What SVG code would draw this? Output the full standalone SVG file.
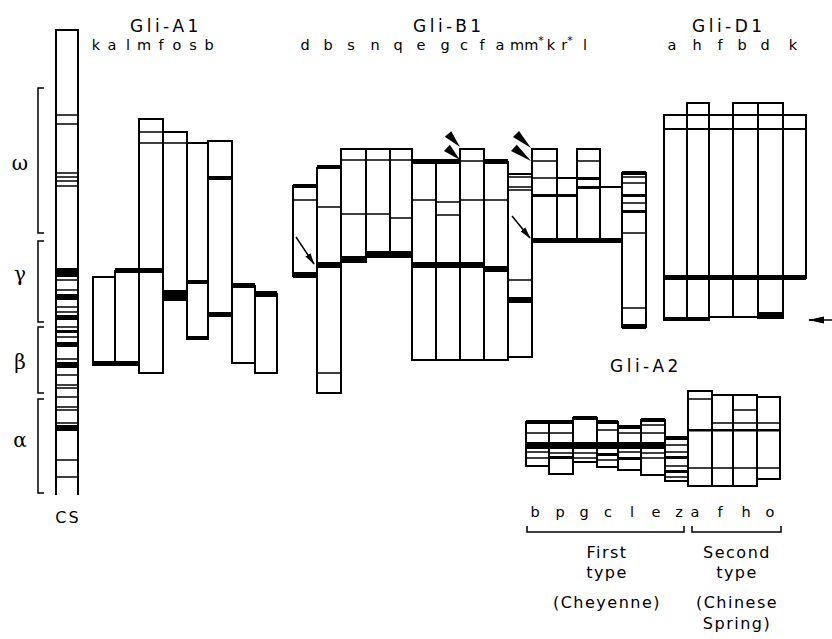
<svg xmlns="http://www.w3.org/2000/svg" width="832" height="639" viewBox="0 0 832 639">
<defs>
<style>
.ln{fill:none;stroke:#000;stroke-width:2}
.tn{fill:none;stroke:#000;stroke-width:1.5}
.bk{fill:#000}
.t{font-family:"DejaVu Sans","Liberation Sans",sans-serif;font-size:16px;fill:#000}
.ttl{font-family:"DejaVu Sans","Liberation Sans",sans-serif;font-size:17px;fill:#000;letter-spacing:3.5px}
.lt{font-family:"DejaVu Sans","Liberation Sans",sans-serif;font-size:14.5px;fill:#000;text-anchor:middle}
.gk{font-family:"DejaVu Serif","Liberation Serif",serif;font-size:20px;fill:#000;text-anchor:middle}
.cap{font-family:"DejaVu Sans","Liberation Sans",sans-serif;font-size:16px;fill:#000;text-anchor:middle;letter-spacing:1.5px}
.ar{stroke:#000;stroke-width:1.5;fill:none}
</style>
<marker id="head" viewBox="0 0 12 8" refX="11" refY="4" markerWidth="12" markerHeight="8" markerUnits="userSpaceOnUse" orient="auto">
<path d="M0,1 L12,4 L0,7 z" fill="#000"/>
</marker>
<marker id="bighead" viewBox="0 0 16 10" refX="15" refY="5" markerWidth="16" markerHeight="10" markerUnits="userSpaceOnUse" orient="auto">
<path d="M0,1.5 L16,5 L0,8.5 z" fill="#000"/>
</marker>
</defs>
<rect width="832" height="639" fill="#fff"/>

<!-- reference cultivar column -->
<g id="cs">
<path class="ln" d="M56 495 V30 H78 V495"/>
<path class="tn" d="M56 115H78M56 124H78M56 173H78M56 177H78M56 181H78M56 186H78M56 280H78M56 290H78M56 307H78M56 312H78M56 327H78M56 337H78M56 359H78M56 375H78M56 385H78M56 388H78M56 397H78M56 407H78M56 410H78M56 423H78M56 460H78M56 477H78"/>
<rect class="bk" x="56" y="268" width="22" height="9"/>
<rect class="bk" x="56" y="294" width="22" height="6"/>
<rect class="bk" x="56" y="315" width="22" height="5"/>
<rect class="bk" x="56" y="330" width="22" height="3"/>
<rect class="bk" x="56" y="342" width="22" height="5"/>
<rect class="bk" x="56" y="362" width="22" height="6"/>
<rect class="bk" x="56" y="425" width="22" height="6"/>
<text class="t" x="68" y="523" text-anchor="middle" letter-spacing="2">CS</text>
</g>

<!-- fraction brackets -->
<g id="fractions">
<path class="tn" d="M44 88H38V233H44M44 241H38V322H44M44 327H38V393H44M44 399H38V493H44"/>
<text class="gk" x="20" y="170">ω</text>
<text class="gk" x="20" y="281">γ</text>
<text class="gk" x="20" y="369">β</text>
<text class="gk" x="20" y="447">α</text>
</g>

<!-- Gli-A1 -->
<g id="gli-a1">
<text class="ttl" x="130" y="32">Gli-A1</text>
<g id="a1-labels">
<text class="lt" x="96" y="50">k</text><text class="lt" x="112" y="50">a</text><text class="lt" x="128" y="50">l</text><text class="lt" x="144" y="50">m</text><text class="lt" x="161" y="50">f</text><text class="lt" x="177" y="50">o</text><text class="lt" x="193" y="50">s</text><text class="lt" x="209" y="50">b</text>
</g>
<g id="a1-k"><rect class="ln" x="93" y="277" width="22" height="88"/></g>
<g id="a1-a"><rect class="ln" x="115" y="271" width="24" height="94"/></g>
<rect class="bk" x="93" y="361" width="46" height="5"/>
<rect class="bk" x="115" y="268" width="48" height="5"/>
<g id="a1-l"><rect class="ln" x="139" y="119" width="24" height="254"/><path class="tn" d="M139 132H187M139 143H208"/></g>
<g id="a1-m"><rect class="ln" x="163" y="132" width="24" height="168"/><rect class="bk" x="163" y="290" width="24" height="10"/></g>
<g id="a1-f"><rect class="ln" x="187" y="143" width="21" height="196"/><rect class="bk" x="187" y="280" width="21" height="4"/><rect class="bk" x="187" y="336" width="21" height="4"/></g>
<g id="a1-o"><rect class="ln" x="208" y="141" width="24" height="175"/><rect class="bk" x="208" y="176" width="24" height="4"/><rect class="bk" x="208" y="312" width="24" height="5"/></g>
<g id="a1-s"><rect class="ln" x="232" y="286" width="23" height="77"/><rect class="bk" x="232" y="283" width="23" height="5"/></g>
<g id="a1-b"><rect class="ln" x="255" y="294" width="22" height="79"/><rect class="bk" x="255" y="291" width="22" height="6"/></g>
</g>

<!-- Gli-B1 -->
<g id="gli-b1">
<text class="ttl" x="413" y="32">Gli-B1</text>
<g id="b1-labels">
<text class="lt" x="305" y="50">d</text><text class="lt" x="328" y="50">b</text><text class="lt" x="351" y="50">s</text><text class="lt" x="375" y="50">n</text><text class="lt" x="398" y="50">q</text><text class="lt" x="421" y="50">e</text><text class="lt" x="445" y="50">g</text><text class="lt" x="464" y="50">c</text><text class="lt" x="482" y="50">f</text><text class="lt" x="500" y="50">a</text><text class="lt" x="517" y="50">m</text><text class="lt" x="534" y="50">m<tspan dy="-6" font-size="11">*</tspan></text><text class="lt" x="551" y="50">k</text><text class="lt" x="567" y="50">r<tspan dy="-6" font-size="11">*</tspan></text><text class="lt" x="585" y="50">l</text>
</g>
<g id="b1-d"><rect class="ln" x="293" y="186" width="24" height="90"/><rect class="bk" x="293" y="184" width="24" height="4"/><path class="tn" d="M293 200H317"/><rect class="bk" x="293" y="272" width="24" height="6"/></g>
<g id="b1-b"><rect class="ln" x="317" y="168" width="24" height="225"/><rect class="bk" x="317" y="165" width="24" height="4"/><path class="tn" d="M317 207H341M317 373H341"/><rect class="bk" x="316" y="262" width="25" height="6"/></g>
<g id="b1-s"><rect class="ln" x="341" y="149" width="25" height="113"/><path class="tn" d="M341 160H412M341 214H390"/><rect class="bk" x="341" y="256" width="25" height="7"/></g>
<g id="b1-n"><rect class="ln" x="366" y="149" width="24" height="108"/></g>
<g id="b1-q"><rect class="ln" x="390" y="149" width="22" height="108"/><path class="tn" d="M390 218H412"/></g>
<rect class="bk" x="366" y="251" width="46" height="7"/>
<g id="b1-e"><rect class="ln" x="412" y="162" width="24" height="198"/><path class="tn" d="M412 200H436"/></g>
<g id="b1-g"><rect class="ln" x="436" y="162" width="24" height="198"/><path class="tn" d="M436 202H460M436 215H460"/></g>
<rect class="bk" x="412" y="159" width="48" height="5"/>
<g id="b1-c"><rect class="ln" x="460" y="149" width="24" height="211"/><path class="tn" d="M460 161H484M460 200H508"/></g>
<rect class="bk" x="412" y="262" width="72" height="6"/>
<g id="b1-f"><rect class="ln" x="484" y="162" width="24" height="198"/><rect class="bk" x="484" y="159" width="24" height="5"/><rect class="bk" x="484" y="266" width="24" height="6"/></g>
<g id="b1-a"><rect class="ln" x="508" y="174" width="24" height="183"/><path class="tn" d="M508 177H532M508 187H532M508 190H532M508 280H532"/><rect class="bk" x="508" y="297" width="24" height="6"/></g>
<g id="b1-m"><rect class="ln" x="532" y="149" width="25" height="92"/><path class="tn" d="M532 161H557M532 178H577"/></g>
<g id="b1-mstar"><rect class="ln" x="557" y="178" width="20" height="63"/></g>
<rect class="bk" x="532" y="194" width="45" height="3"/>
<g id="b1-k"><rect class="ln" x="577" y="149" width="23" height="92"/><path class="tn" d="M577 161H600"/><rect class="bk" x="577" y="177" width="23" height="3"/><rect class="bk" x="577" y="186" width="23" height="3"/></g>
<g id="b1-rstar"><rect class="ln" x="600" y="187" width="22" height="54"/></g>
<rect class="bk" x="532" y="238" width="90" height="5"/>
<g id="b1-l"><rect class="ln" x="622" y="173" width="24" height="154"/><rect class="bk" x="622" y="171" width="24" height="4"/><path class="tn" d="M622 177H646M622 183H646M622 203H646M622 233H646M622 308H646"/><rect class="bk" x="622" y="194" width="24" height="3"/><rect class="bk" x="622" y="210" width="24" height="3"/><rect class="bk" x="622" y="324" width="24" height="5"/></g>
</g>

<!-- Gli-D1 -->
<g id="gli-d1">
<text class="ttl" x="692" y="32">Gli-D1</text>
<g id="d1-labels">
<text class="lt" x="672" y="50">a</text><text class="lt" x="697" y="50">h</text><text class="lt" x="720" y="50">f</text><text class="lt" x="742" y="50">b</text><text class="lt" x="765" y="50">d</text><text class="lt" x="793" y="50">k</text>
</g>
<g id="d1-a"><rect class="ln" x="664" y="115" width="23" height="205"/><rect class="bk" x="664" y="317" width="45" height="4"/></g>
<g id="d1-h"><rect class="ln" x="687" y="103" width="22" height="217"/></g>
<g id="d1-f"><rect class="ln" x="709" y="115" width="24" height="202"/></g>
<g id="d1-b"><rect class="ln" x="733" y="103" width="25" height="214"/></g>
<g id="d1-d"><rect class="ln" x="758" y="103" width="25" height="215"/><rect class="bk" x="758" y="312" width="25" height="7"/></g>
<g id="d1-k"><rect class="ln" x="783" y="115" width="23" height="163"/></g>
<path class="ln" d="M664 115H806M664 129H806"/>
<rect class="bk" x="664" y="275" width="142" height="5"/>
</g>

<!-- Gli-A2 -->
<g id="gli-a2">
<text class="ttl" x="610" y="372">Gli-A2</text>
<g id="a2-b"><rect class="ln" x="526" y="422" width="23" height="44"/><path class="tn" d="M526 433H549M526 452H549M526 458H549"/></g>
<g id="a2-p"><rect class="ln" x="549" y="422" width="24" height="52"/><path class="tn" d="M549 433H573M549 453H573"/><rect class="bk" x="549" y="456" width="24" height="3"/></g>
<rect class="bk" x="526" y="420" width="47" height="4"/>
<g id="a2-g"><rect class="ln" x="573" y="418" width="24" height="44"/><rect class="bk" x="573" y="416" width="24" height="4"/><path class="tn" d="M573 453H597M573 458H597"/></g>
<g id="a2-c"><rect class="ln" x="597" y="422" width="21" height="45"/><rect class="bk" x="597" y="420" width="21" height="4"/><path class="tn" d="M597 430H618M597 460H618"/><rect class="bk" x="597" y="453" width="21" height="3"/></g>
<g id="a2-l"><rect class="ln" x="618" y="427" width="23" height="43"/><rect class="bk" x="618" y="425" width="23" height="4"/><path class="tn" d="M618 433H641M618 452H641"/><rect class="bk" x="618" y="457" width="23" height="3"/></g>
<g id="a2-e"><rect class="ln" x="641" y="420" width="24" height="55"/><rect class="bk" x="641" y="418" width="24" height="4"/><path class="tn" d="M641 425H665M641 433H665M641 453H665M641 458H665"/></g>
<rect class="bk" x="526" y="442" width="139" height="7"/>
<g id="a2-z"><rect class="ln" x="665" y="438" width="23" height="43"/><rect class="bk" x="665" y="436" width="23" height="4"/><path class="tn" d="M665 445H688M665 452H688M665 466H688M665 477H688"/><rect class="bk" x="665" y="456" width="23" height="3"/><rect class="bk" x="665" y="470" width="23" height="3"/></g>
<g id="a2-a"><rect class="ln" x="688" y="391" width="24" height="95"/><path class="tn" d="M688 399H712"/></g>
<g id="a2-f"><rect class="ln" x="712" y="395" width="21" height="91"/></g>
<g id="a2-h"><rect class="ln" x="733" y="395" width="24" height="91"/><path class="tn" d="M733 410H757"/></g>
<g id="a2-o"><rect class="ln" x="757" y="397" width="23" height="82"/></g>
<path class="tn" d="M712 423H780M688 468H780"/>
<rect class="bk" x="688" y="429" width="92" height="2.5"/>
<g id="a2-labels">
<text class="lt" x="535" y="517">b</text><text class="lt" x="560" y="517">p</text><text class="lt" x="584" y="517">g</text><text class="lt" x="608" y="517">c</text><text class="lt" x="632" y="517">l</text><text class="lt" x="656" y="517">e</text><text class="lt" x="679" y="517">z</text><text class="lt" x="695" y="517">a</text><text class="lt" x="720" y="517">f</text><text class="lt" x="746" y="517">h</text><text class="lt" x="770" y="517">o</text>
</g>
<path class="tn" d="M527 526V532H684V526M692 526V532H781V526"/>
<text class="cap" x="607" y="558">First</text>
<text class="cap" x="607" y="578">type</text>
<text class="cap" x="607" y="608">(Cheyenne)</text>
<text class="cap" x="737" y="558">Second</text>
<text class="cap" x="737" y="578">type</text>
<text class="cap" x="737" y="608">(Chinese</text>
<text class="cap" x="737" y="629">Spring)</text>
</g>

<!-- pointers -->
<g id="connectors">
<path class="ar" d="M296 237L314 264" marker-end="url(#head)"/>
<path class="ar" d="M512 216L530 238" marker-end="url(#head)"/>
<polygon class="bk" points="444.8,136.8 451.2,131.2 460,147"/>
<polygon class="bk" points="444.0,151.0 449.8,144.8 460,160"/>
<polygon class="bk" points="513.0,137.0 519.0,131.0 531,148"/>
<polygon class="bk" points="511.0,151.0 516.8,144.8 531,161"/>
<path class="ar" d="M832 320H809" marker-end="url(#bighead)"/>
</g>
</svg>
